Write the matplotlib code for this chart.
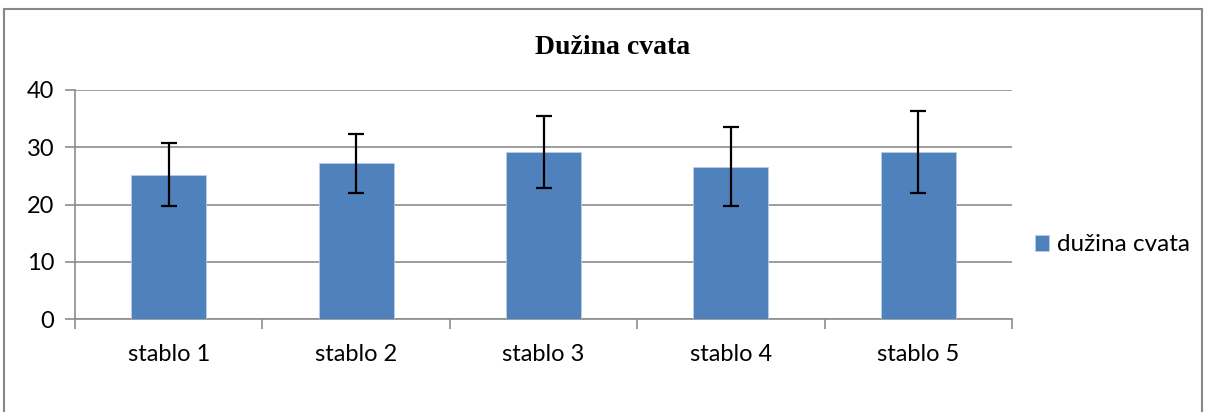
import matplotlib.pyplot as plt
from matplotlib.patches import Rectangle
import numpy as np

categories = ['stablo 1', 'stablo 2', 'stablo 3', 'stablo 4', 'stablo 5']
means = [25.2, 27.2, 29.1, 26.6, 29.2]
errors = [5.5, 5.2, 6.3, 6.9, 7.2]
series_name = 'dužina cvata'
title = 'Dužina cvata'

plt.rcParams['font.family'] = ['Lato', 'DejaVu Sans']

fig = plt.figure(figsize=(12.06, 4.12), dpi=100)
ax = fig.add_axes([75 / 1206, 93 / 412, 937 / 1206, 229 / 412])

x = np.arange(len(categories))
bars = ax.bar(x, means, width=0.4, color='#4F81BD', edgecolor='#B9CDE5',
              linewidth=0.6, label=series_name, zorder=3)
ax.errorbar(x, means, yerr=errors, fmt='none', ecolor='black', elinewidth=1.6,
            capsize=6, capthick=1.6, zorder=4)

ax.set_xlim(-0.5, len(categories) - 0.5)
ax.set_ylim(0, 40)
ax.set_yticks([0, 10, 20, 30, 40])
ax.yaxis.grid(True, color='#8C8C8C', linewidth=1.2, zorder=0)
ax.set_axisbelow(True)

# category labels between boundary ticks
ax.set_xticks(np.arange(len(categories) + 1) - 0.5)
ax.set_xticklabels([])
ax.set_xticks(x, minor=True)
ax.set_xticklabels(categories, minor=True)
ax.tick_params(axis='x', which='minor', length=0, pad=18, labelsize=17)
ax.tick_params(axis='x', which='major', length=7, color='#8C8C8C', width=1.2)
ax.tick_params(axis='y', length=7, color='#8C8C8C', width=1.2, labelsize=17, pad=8)

for s in ['top', 'right']:
    ax.spines[s].set_visible(False)
for s in ['left', 'bottom']:
    ax.spines[s].set_color('#8C8C8C')
    ax.spines[s].set_linewidth(1.2)

fig.text(613 / 1206, 1 - 48 / 412, title, ha='center', va='center',
         fontsize=20, fontweight='bold', family='Liberation Serif')

fig.legend(handles=[bars], labels=[series_name], loc='center left',
           bbox_to_anchor=(1013 / 1206, 1 - 245 / 412), frameon=False,
           fontsize=17.5, handlelength=0.6, handleheight=0.6, handletextpad=0.3)

border = Rectangle((4 / 1206, -0.1), 1198 / 1206, 1.1 - 9 / 412,
                   transform=fig.transFigure, fill=False, edgecolor='#888888',
                   linewidth=1.5, clip_on=False)
fig.patches.append(border)

fig.savefig('out.png', dpi=100)
